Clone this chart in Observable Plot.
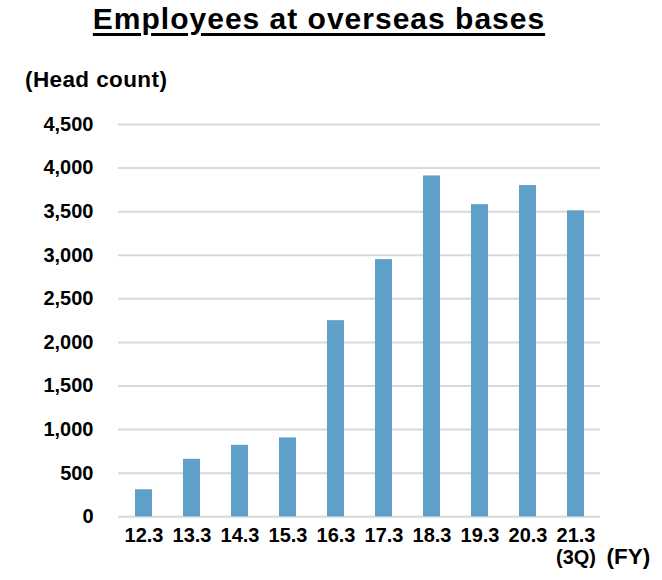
<!DOCTYPE html>
<html>
<head>
<meta charset="utf-8">
<script src="https://cdn.jsdelivr.net/npm/d3@7"></script>
<script src="https://cdn.jsdelivr.net/npm/@observablehq/plot@0.6"></script>
<style>
  body { margin: 0; background: #fff; font-family: "Liberation Sans", Arial, sans-serif; }
  #header { position: relative; height: 100px; width: 662px; }
  #title { position: absolute; left: 0; width: 638px; top: 4px; text-align: center; font-size: 30px; line-height: 30px; font-weight: bold; text-decoration: underline; text-decoration-thickness: 3px; text-underline-offset: 4px; letter-spacing: 1px; color: #000; }
  #unit { position: absolute; left: 25px; top: 68px; font-size: 22.5px; line-height: 23px; font-weight: bold; letter-spacing: 0.4px; color: #000; }
</style>
</head>
<body>
<div id="header">
  <div id="title">Employees at overseas bases</div>
  <div id="unit">(Head count)</div>
</div>
<div id="chart"></div>
<script>
const categories = ["12.3", "13.3", "14.3", "15.3", "16.3", "17.3", "18.3", "19.3", "20.3", "21.3"];
const counts = [310, 660, 820, 905, 2250, 2950, 3910, 3580, 3800, 3510];
const yTicks = [0, 500, 1000, 1500, 2000, 2500, 3000, 3500, 4000, 4500];
const noteLabel = ["(3Q)"];
const noteCategory = ["21.3"];
const unitX = ["(FY)"];

const data = categories.map((c, i) => ({fy: c, count: counts[i]}));

const chart = Plot.plot({
  width: 662,
  height: 480,
  marginTop: 24,
  marginBottom: 63.7,
  marginLeft: 118,
  marginRight: 62,
  style: {fontFamily: '"Liberation Sans", Arial, sans-serif', fontSize: "20px", fontWeight: "bold", color: "#000", background: "#fff"},
  x: {domain: categories, paddingInner: 0.65, paddingOuter: 0.325, label: null},
  y: {domain: [0, 4500], label: null},
  marks: [
    Plot.ruleY(yTicks, {stroke: "#d9d9d9", strokeWidth: 2}),
    Plot.barY(data, {x: "fy", y: "count", fill: "#5fa0ca"}),
    Plot.axisY({ticks: yTicks, tickFormat: d3.format(","), tickSize: 0, tickPadding: 25, label: null}),
    Plot.axisX({tickSize: 0, tickPadding: 11.2, label: null}),
    Plot.text(noteLabel, {text: d => d, x: noteCategory, frameAnchor: "bottom", lineAnchor: "top", dy: 32.5, fontSize: 20, fontWeight: "bold"}),
    Plot.text(unitX, {text: d => d, frameAnchor: "bottom-right", textAnchor: "start", lineAnchor: "top", dx: 6, dy: 31, fontSize: 22.5, fontWeight: "bold"})
  ]
});
document.getElementById("chart").appendChild(chart);
</script>
</body>
</html>
